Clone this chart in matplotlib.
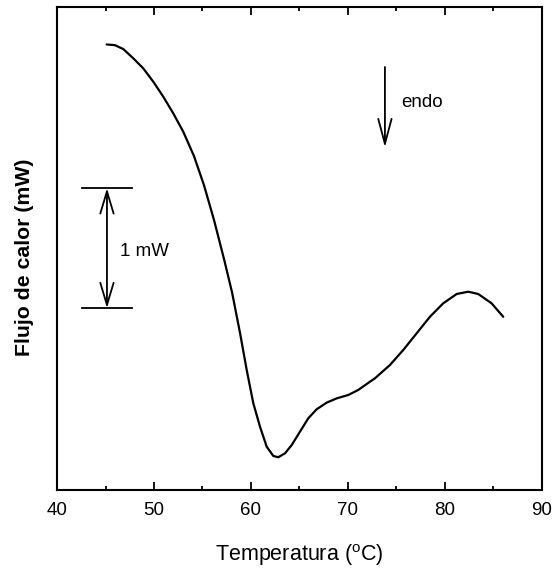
import matplotlib
matplotlib.use("Agg")
import matplotlib.pyplot as plt
from matplotlib.ticker import MultipleLocator

plt.rcParams['font.family'] = ['Liberation Sans', 'DejaVu Sans']
plt.rcParams['mathtext.fontset'] = 'custom'
plt.rcParams['mathtext.rm'] = 'Liberation Sans'

# DSC curve (Temperature in °C, heat flow in mW, arbitrary offset)
temperature = [45.12, 45.98, 46.84, 47.87, 48.90, 49.93, 50.96, 51.99, 53.02, 54.12,
               55.15, 56.19, 57.22, 58.04, 58.87, 59.56, 60.24, 60.93, 61.62,
               62.30, 62.81, 63.51, 64.20, 65.05, 65.91, 66.77, 67.80, 68.84, 70.03,
               71.06, 72.27, 72.78, 74.33, 75.70, 77.08, 78.45, 79.82, 81.21, 82.40,
               83.43, 84.81, 86.01]
heat_flow = [3.718, 3.712, 3.679, 3.602, 3.518, 3.407, 3.282, 3.143, 2.990, 2.788,
             2.546, 2.254, 1.929, 1.654, 1.313, 1.004, 0.727, 0.532, 0.365,
             0.288, 0.277, 0.310, 0.379, 0.490, 0.602, 0.677, 0.732, 0.768, 0.796,
             0.838, 0.907, 0.935, 1.046, 1.171, 1.310, 1.448, 1.560, 1.638, 1.657,
             1.638, 1.560, 1.448]

xticks = [40, 50, 60, 70, 80, 90]

fig = plt.figure(figsize=(5.53, 5.71), dpi=100)
ax = fig.add_axes([0.1031, 0.141, 0.8769, 0.8467])

ax.plot(temperature, heat_flow, color='black', lw=1.6,
        solid_joinstyle='round', solid_capstyle='round')

ax.set_xlim(40, 90)
ax.set_ylim(0, 4.03)
ax.set_xticks(xticks)
ax.xaxis.set_minor_locator(MultipleLocator(5))
ax.set_yticks([])
ax.tick_params(axis='x', which='both', direction='in', top=True, bottom=True,
               labelsize=13.5, width=1.3, pad=8)
ax.tick_params(axis='x', which='major', length=6)
ax.tick_params(axis='x', which='minor', length=3)
for s in ax.spines.values():
    s.set_linewidth(1.5)

ax.set_xlabel('Temperatura ($^{\\mathrm{o}}$C)', fontsize=15.5)
ax.xaxis.set_label_coords(0.5, -0.106)
ax.set_ylabel('Flujo de calor (mW)', fontsize=15.3, fontweight='bold')
ax.yaxis.set_label_coords(-0.047, 0.482)

# 1 mW scale bar
bar_x = 45.15
bar_lo, bar_hi = 1.52, 2.52
ax.plot([42.58, 47.73], [bar_hi, bar_hi], color='black', lw=1.3)
ax.plot([42.58, 47.73], [bar_lo, bar_lo], color='black', lw=1.3)
ax.annotate('', xy=(bar_x, bar_hi), xytext=(bar_x, bar_lo),
            arrowprops=dict(arrowstyle='<->,head_length=0.8,head_width=0.24',
                            mutation_scale=20, color='black', lw=1.3,
                            shrinkA=0, shrinkB=0))
ax.text(46.5, 1.99, '1 mW', fontsize=13.5, va='center', ha='left')

# endo arrow
ax.annotate('', xy=(73.81, 2.86), xytext=(73.81, 3.53),
            arrowprops=dict(arrowstyle='->,head_length=0.9,head_width=0.24',
                            mutation_scale=20, color='black', lw=1.3,
                            shrinkA=0, shrinkB=0))
ax.text(75.5, 3.23, 'endo', fontsize=13.5, va='center', ha='left')

fig.savefig('out.png', dpi=100)
